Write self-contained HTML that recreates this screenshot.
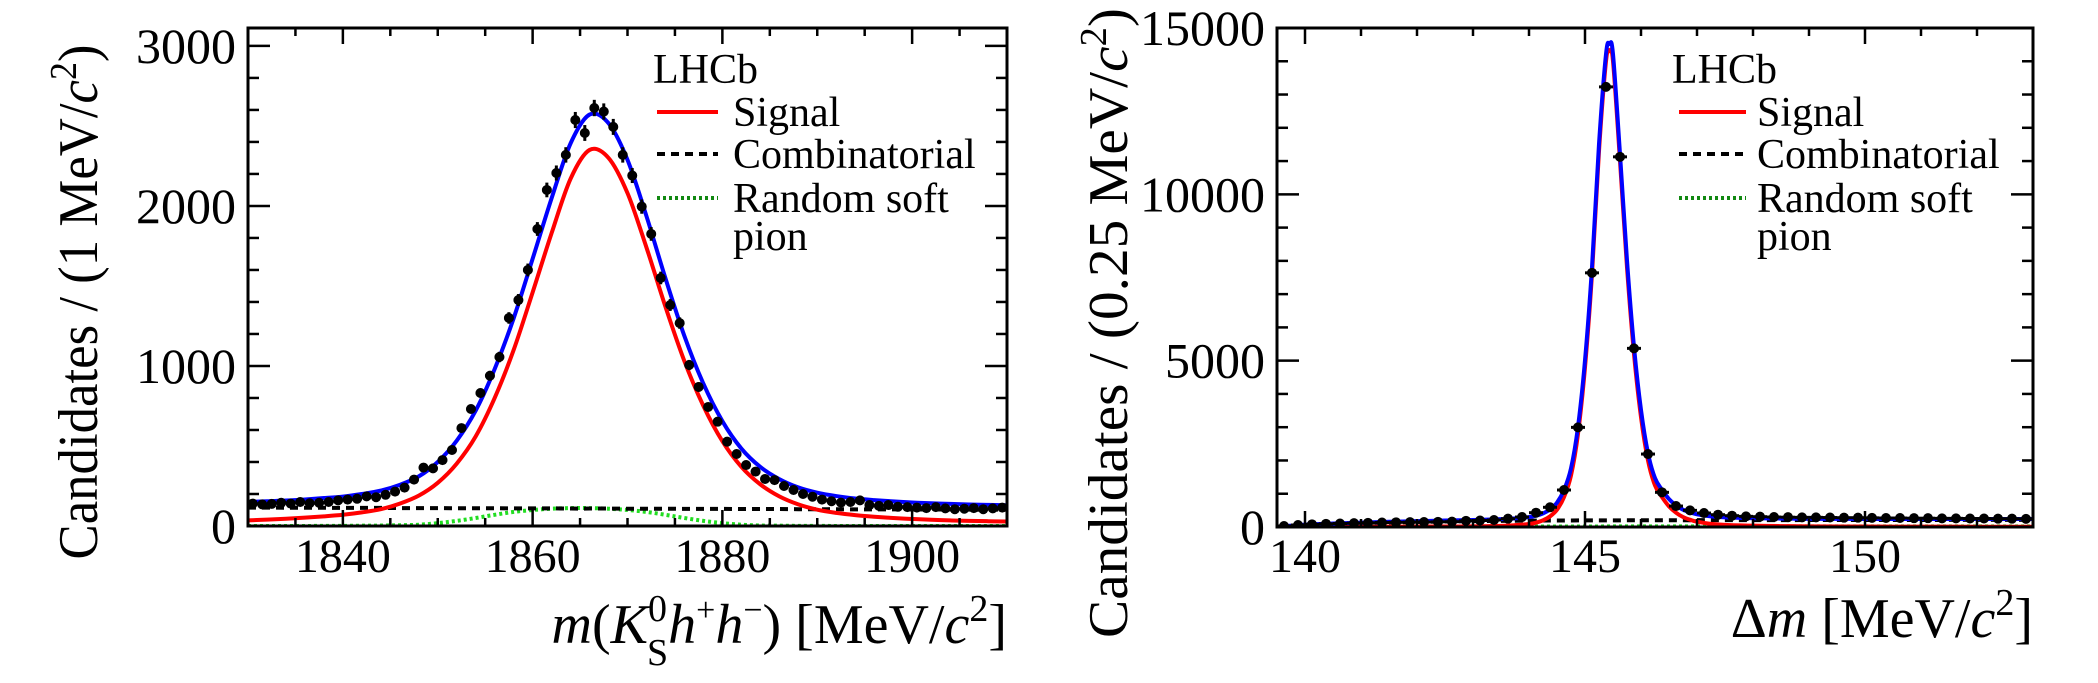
<!DOCTYPE html>
<html><head><meta charset="utf-8"><style>
html,body{margin:0;padding:0;background:#fff;}
svg{display:block;font-family:"Liberation Serif",serif;}
</style></head><body>
<svg id="c" width="2098" height="683" viewBox="0 0 2098 683" xmlns="http://www.w3.org/2000/svg"></svg>
<script>
// ---------- LEFT: m(KS h h) ----------
const massBins = [1830.5,1831.5,1832.5,1833.5,1834.5,1835.5,1836.5,1837.5,1838.5,1839.5,1840.5,1841.5,1842.5,1843.5,1844.5,1845.5,1846.5,1847.5,1848.5,1849.5,1850.5,1851.5,1852.5,1853.5,1854.5,1855.5,1856.5,1857.5,1858.5,1859.5,1860.5,1861.5,1862.5,1863.5,1864.5,1865.5,1866.5,1867.5,1868.5,1869.5,1870.5,1871.5,1872.5,1873.5,1874.5,1875.5,1876.5,1877.5,1878.5,1879.5,1880.5,1881.5,1882.5,1883.5,1884.5,1885.5,1886.5,1887.5,1888.5,1889.5,1890.5,1891.5,1892.5,1893.5,1894.5,1895.5,1896.5,1897.5,1898.5,1899.5,1900.5,1901.5,1902.5,1903.5,1904.5,1905.5,1906.5,1907.5,1908.5,1909.5];
const massCounts = [140,135,138,145,140,150,142,145,150,160,165,170,185,180,195,215,240,290,365,360,412,475,612,731,831,939,1056,1300,1412,1600,1856,2100,2206,2319,2537,2456,2612,2590,2494,2319,2190,1996,1825,1550,1381,1268,1006,869,744,652,527,450,381,340,294,287,250,225,200,183,165,155,146,150,160,131,126,131,120,118,115,112,118,110,105,108,112,105,110,115];
const massCurveX = [1830,1832,1834,1836,1838,1840,1842,1844,1846,1848,1850,1852,1854,1856,1858,1860,1862,1864,1866,1868,1870,1872,1874,1876,1878,1880,1882,1884,1886,1888,1890,1892,1894,1896,1898,1900,1902,1904,1906,1908,1910];
const massSignal = [35,40,45,52,60,70,85,105,140,190,270,390,560,800,1100,1460,1830,2170,2350,2300,2080,1740,1370,1030,750,530,370,260,185,135,102,82,68,58,50,44,39,35,32,30,28];
const massComb = [115,115,114,114,114,113,113,113,112,112,112,111,111,111,110,110,110,109,109,109,108,108,108,107,107,107,106,106,106,105,105,105,104,104,104,103,103,103,102,102,102];
const massRsp = [0,0,0,0,1,1,2,3,5,8,18,32,50,70,88,100,108,112,112,108,100,88,70,50,32,18,8,3,2,1,1,0,0,0,0,0,0,0,0,0,0];
const massYTicks = [0,1000,2000,3000];
const massXTicks = [1840,1860,1880,1900];

// ---------- RIGHT: delta m ----------
const dmBins = [139.625,139.875,140.125,140.375,140.625,140.875,141.125,141.375,141.625,141.875,142.125,142.375,142.625,142.875,143.125,143.375,143.625,143.875,144.125,144.375,144.625,144.875,145.125,145.375,145.625,145.875,146.125,146.375,146.625,146.875,147.125,147.375,147.625,147.875,148.125,148.375,148.625,148.875,149.125,149.375,149.625,149.875,150.125,150.375,150.625,150.875,151.125,151.375,151.625,151.875,152.125,152.375,152.625,152.875];
const dmCounts = [30,60,80,95,105,115,125,135,140,145,150,155,160,185,195,210,250,300,430,592,1112,2995,7640,13230,11127,5370,2193,1042,630,500,420,370,340,320,310,300,295,290,290,285,280,280,275,270,270,265,265,260,260,255,255,250,250,245];
const dmCurveX = [139.5,140,140.5,141,141.5,142,142.5,143,143.5,143.75,144,144.125,144.25,144.375,144.5,144.625,144.75,144.875,145,145.125,145.25,145.375,145.4375,145.5,145.625,145.75,145.875,146,146.125,146.25,146.375,146.5,146.625,146.75,146.875,147,147.25,147.5,148,148.5,149,150,151,152,153];
const dmSignal = [5,6,7,8,10,12,15,20,35,55,90,130,200,320,520,900,1550,2800,4800,7600,11300,14000,14300,14000,11000,7800,5200,3300,2000,1250,900,620,430,300,220,160,95,65,40,28,20,14,11,9,8];
const dmCombX = [139.5,140,140.5,141,141.5,142,142.5,143,143.5,144,145,146,147,148,149,150,151,152,153];
const dmComb = [0,60,90,115,135,150,165,175,185,192,198,202,205,207,209,211,212,213,214];
const dmRspX = [139.5,140.5,141.5,142.5,143.5,144.5,145.5,146.5,147.5,148.5,150,151.5,153];
const dmRsp = [0,8,12,14,15,16,17,17,17,17,17,17,17];
const dmYTicks = [0,5000,10000,15000];
const dmXTicks = [140,145,150];

const NS = "http://www.w3.org/2000/svg";
const svg = document.getElementById('c');
function mk(tag, attrs, parent){
  const e = document.createElementNS(NS, tag);
  for (const k in attrs) e.setAttribute(k, attrs[k]);
  (parent||svg).appendChild(e);
  return e;
}
function interp(xs, ys, x){
  if (x <= xs[0]) return ys[0];
  for (let i=1;i<xs.length;i++){ if (x <= xs[i]){ const t=(x-xs[i-1])/(xs[i]-xs[i-1]); return ys[i-1]+t*(ys[i]-ys[i-1]); } }
  return ys[ys.length-1];
}
function smoothPath(pts){
  let d = "M"+pts[0][0].toFixed(2)+","+pts[0][1].toFixed(2);
  for (let i=0;i<pts.length-1;i++){
    const p0=pts[Math.max(0,i-1)], p1=pts[i], p2=pts[i+1], p3=pts[Math.min(pts.length-1,i+2)];
    let c1x=p1[0]+(p2[0]-p0[0])/6, c1y=p1[1]+(p2[1]-p0[1])/6;
    let c2x=p2[0]-(p3[0]-p1[0])/6, c2y=p2[1]-(p3[1]-p1[1])/6;
    d += " C"+c1x.toFixed(2)+","+c1y.toFixed(2)+" "+c2x.toFixed(2)+","+c2y.toFixed(2)+" "+p2[0].toFixed(2)+","+p2[1].toFixed(2);
  }
  return d;
}

function panel(cfg){
  const g = mk('g', {});
  
  
  const X = v => cfg.x0 + (v - cfg.xmin) / (cfg.xmax - cfg.xmin) * (cfg.x1 - cfg.x0);
  const Y = v => cfg.y1 - (v - cfg.ymin) / (cfg.ymax - cfg.ymin) * (cfg.y1 - cfg.y0);
  const clipId = cfg.name + '-clip';
  const cp = mk('clipPath', {id: clipId}, g);
  mk('rect', {x: cfg.x0, y: cfg.y0, width: cfg.x1-cfg.x0, height: cfg.y1-cfg.y0}, cp);
  const plot = mk('g', {'clip-path': 'url(#'+clipId+')'}, g);

  const rspPath = mk('path', {d: smoothPath(cfg.rspX.map((x,i)=>[X(x),Y(cfg.rsp[i])])), fill:'none', stroke:'#22dd22', 'stroke-width':4, 'stroke-dasharray':'3,3'}, plot);
  
  
  const combPath = mk('path', {d: smoothPath(cfg.combX.map((x,i)=>[X(x),Y(cfg.comb[i])])), fill:'none', stroke:'#000', 'stroke-width':4, 'stroke-dasharray':'8,6'}, plot);
  
  
  const sigPath = mk('path', {d: smoothPath(cfg.curveX.map((x,i)=>[X(x),Y(cfg.signal[i])])), fill:'none', stroke:'#ff0000', 'stroke-width':4}, plot);
  
  
  const totalPts = cfg.curveX.map((x,i)=>[X(x), Y(cfg.signal[i] + interp(cfg.combX,cfg.comb,x) + interp(cfg.rspX,cfg.rsp,x))]);
  const totPath = mk('path', {d: smoothPath(totalPts), fill:'none', stroke:'#0000ff', 'stroke-width':4}, plot);
  
  

  cfg.bins.forEach((b,i)=>{
    const n = cfg.counts[i], err = Math.sqrt(n);
    const pg = mk('g', {}, plot);
    
    
    mk('line', {x1:X(b-cfg.bw/2), x2:X(b+cfg.bw/2), y1:Y(n), y2:Y(n), stroke:'#000','stroke-width':3}, pg);
    mk('line', {x1:X(b), x2:X(b), y1:Y(n-err), y2:Y(n+err), stroke:'#000','stroke-width':3}, pg);
    mk('circle', {cx:X(b), cy:Y(n), r:5, fill:'#000'}, pg);
  });

  const fr = mk('rect', {x:cfg.x0, y:cfg.y0, width:cfg.x1-cfg.x0, height:cfg.y1-cfg.y0, fill:'none', stroke:'#000','stroke-width':3}, g);
  
  

  for (let v=cfg.ymin; v<=cfg.ymax+1e-9; v+=cfg.yminor){
    const major = cfg.yTicks.some(t=>Math.abs(t-v)<1e-6);
    const L = major?22:11, y=Y(v);
    mk('line', {x1:cfg.x0, x2:cfg.x0+L, y1:y, y2:y, stroke:'#000','stroke-width':2.5}, g);
    mk('line', {x1:cfg.x1, x2:cfg.x1-L, y1:y, y2:y, stroke:'#000','stroke-width':2.5}, g);
  }
  cfg.yTicks.forEach(t=>{
    const tx = mk('text', {x:cfg.x0-12, y:Y(t)+17, 'font-size':50, 'text-anchor':'end'}, g);
    tx.textContent = t;
    
    
  });
  const start = Math.ceil(cfg.xmin/cfg.xminor)*cfg.xminor;
  for (let v=start; v<=cfg.xmax+1e-9; v+=cfg.xminor){
    const major = cfg.xTicks.some(t=>Math.abs(t-v)<1e-6);
    const L = major?16:8, x=X(v);
    mk('line', {x1:x, x2:x, y1:cfg.y1, y2:cfg.y1-L, stroke:'#000','stroke-width':2.5}, g);
    mk('line', {x1:x, x2:x, y1:cfg.y0, y2:cfg.y0+L, stroke:'#000','stroke-width':2.5}, g);
  }
  cfg.xTicks.forEach(t=>{
    const tx = mk('text', {x:X(t), y:572, 'font-size':48, 'text-anchor':'middle'}, g);
    tx.textContent = t;
    
    
  });

  const lg = mk('g', {}, g);
  
  
  const lh = mk('text', {x:cfg.legX, y:83, 'font-size':42}, lg);
  lh.textContent = 'LHCb';
  
  
  const entries = [['Signal',126,'#ff0000','none',4],['Combinatorial',168,'#000','8,6',4],['Random soft',212,'#118811','3,3',4]];
  entries.forEach(e=>{
    const eg = mk('g', {}, lg);
    
    
    mk('line', {x1:cfg.lineX0, x2:cfg.lineX1, y1:e[1]-14, y2:e[1]-14, stroke:e[2], 'stroke-width':e[4], 'stroke-dasharray':e[3]}, eg);
    const t = mk('text', {x:cfg.textX, y:e[1], 'font-size':42}, eg);
    t.textContent = e[0];
  });
  const pi = mk('text', {x:cfg.textX, y:250, 'font-size':42}, lg);
  pi.textContent = 'pion';
}

panel({name:'mass-panel', x0:248, x1:1007, y0:28, y1:526, xmin:1830, xmax:1910, ymin:0, ymax:3112, yTicks:massYTicks, yminor:200, xTicks:massXTicks, xminor:5,
  bins:massBins, counts:massCounts, bw:1, curveX:massCurveX, signal:massSignal, combX:massCurveX, comb:massComb, rspX:massCurveX, rsp:massRsp,
  legX:653, lineX0:657, lineX1:718, textX:733});
panel({name:'deltam-panel', x0:1277, x1:2033, y0:28, y1:527, xmin:139.5, xmax:153, ymin:0, ymax:15000, yTicks:dmYTicks, yminor:1000, xTicks:dmXTicks, xminor:1,
  bins:dmBins, counts:dmCounts, bw:0.25, curveX:dmCurveX, signal:dmSignal, combX:dmCombX, comb:dmComb, rspX:dmRspX, rsp:dmRsp,
  legX:1672, lineX0:1679, lineX1:1746, textX:1757});
</script>
<div style="position:absolute;left:0;top:0;width:2098px;height:683px;pointer-events:none">
<svg width="2098" height="683" style="position:absolute;left:0;top:0;font-family:'Liberation Serif',serif">
  <text transform="translate(97,302) rotate(-90)" font-size="56" text-anchor="middle" textLength="515" lengthAdjust="spacingAndGlyphs">Candidates / (1 MeV/<tspan font-style="italic">c</tspan><tspan baseline-shift="super" font-size="38">2</tspan>)</text>
  <text transform="translate(1127,323) rotate(-90)" font-size="56" text-anchor="middle" textLength="630" lengthAdjust="spacingAndGlyphs">Candidates / (0.25 MeV/<tspan font-style="italic">c</tspan><tspan baseline-shift="super" font-size="38">2</tspan>)</text>
  <text x="1007" y="643" font-size="56" text-anchor="end"><tspan font-style="italic">m</tspan>(<tspan font-style="italic">K</tspan><tspan font-size="38" dy="-22">0</tspan><tspan font-size="38" dx="-20" dy="44">S</tspan><tspan font-style="italic" dy="-22">h</tspan><tspan font-size="34" dy="-22">+</tspan><tspan font-style="italic" dy="22">h</tspan><tspan font-size="34" dy="-22">−</tspan><tspan dy="22">) [MeV/</tspan><tspan font-style="italic">c</tspan><tspan font-size="38" dy="-22">2</tspan><tspan dy="22">]</tspan></text>
  <text x="2033" y="637" font-size="56" text-anchor="end">Δ<tspan font-style="italic">m</tspan> [MeV/<tspan font-style="italic">c</tspan><tspan font-size="38" dy="-22">2</tspan><tspan dy="22">]</tspan></text>
</svg>
</div>
</body></html>
